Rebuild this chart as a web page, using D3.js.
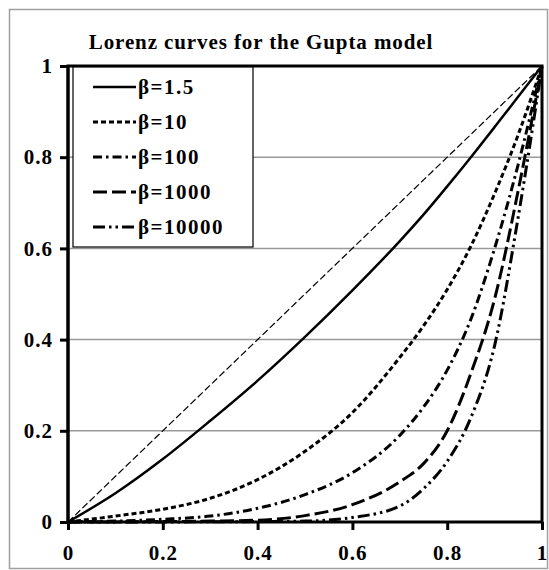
<!DOCTYPE html>
<meta charset="utf-8">
<style>
body { margin: 0; background: #fff; }
svg, .text { font-family: 'Liberation Serif', 'Times New Roman', serif; font-weight: bold; }
</style>
<body>
<script src="https://d3js.org/d3.v7.min.js"></script>
<script>

// share of population (x) and cumulative share of income (y) per beta
var xs = [0, 0.1, 0.2, 0.3, 0.4, 0.5, 0.6, 0.7, 0.75, 0.8, 0.85, 0.9, 0.95, 1];
var beta1_5   = [0, 0.063, 0.138, 0.222, 0.31, 0.406, 0.508, 0.616, 0.674, 0.736, 0.80, 0.866, 0.933, 1];
var beta10    = [0, 0.013, 0.028, 0.052, 0.093, 0.155, 0.24, 0.361, 0.43, 0.51, 0.605, 0.72, 0.85, 1];
var beta100   = [0, 0.002, 0.006, 0.013, 0.03, 0.06, 0.108, 0.19, 0.252, 0.333, 0.445, 0.60, 0.785, 1];
var beta1000  = [0, 0, 0.001, 0.002, 0.004, 0.014, 0.038, 0.088, 0.128, 0.2, 0.326, 0.489, 0.728, 1];
var beta10000 = [0, 0, 0, 0.0005, 0.001, 0.002, 0.01, 0.035, 0.073, 0.133, 0.229, 0.387, 0.67, 1];
var equality  = [0, 1];

var labels = ["\u03b2=1.5", "\u03b2=10", "\u03b2=100", "\u03b2=1000", "\u03b2=10000"];
var xTicks = [0, 0.2, 0.4, 0.6, 0.8, 1];
var yTicks = [0, 0.2, 0.4, 0.6, 0.8, 1];

var W = 549, H = 570;
var margin = {top: 66, right: 7, bottom: 48, left: 68};
var width = W - margin.left - margin.right,
    height = H - margin.top - margin.bottom;

var x = d3.scaleLinear().domain([0, 1]).range([0, width]),
    y = d3.scaleLinear().domain([0, 1]).range([height, 0]);

var svg = d3.select("body").append("svg")
    .attr("width", W)
    .attr("height", H);

// outer chart frame
svg.append("rect")
    .attr("x", 9.5).attr("y", 9.5)
    .attr("width", W - 11).attr("height", H - 11)
    .style("fill", "none")
    .style("stroke", "#a0a0a0")
    .style("stroke-width", 1.5);

svg.append("text")
    .attr("x", 261)
    .attr("y", 49)
    .style("text-anchor", "middle")
    .style("font-size", "21px")
    .style("letter-spacing", "0.9px")
    .text("Lorenz curves for the Gupta model");

var focus = svg.append("g")
    .attr("transform", "translate(" + margin.left + "," + margin.top + ")");

// gridlines
focus.selectAll(".grid")
    .data(yTicks.filter(function(d) { return d > 0 && d < 1; }))
    .enter().append("line")
    .attr("x1", 0).attr("x2", width)
    .attr("y1", function(d) { return y(d); })
    .attr("y2", function(d) { return y(d); })
    .style("stroke", "#999")
    .style("stroke-width", 1.5);

var series = [
  {name: labels[0], values: beta1_5,   dash: null,                 sw: 2.5},
  {name: labels[1], values: beta10,    dash: "5,3",                sw: 3},
  {name: labels[2], values: beta100,   dash: "9,4,2.5,4",          sw: 3},
  {name: labels[3], values: beta1000,  dash: "14,5",               sw: 3},
  {name: labels[4], values: beta10000, dash: "12,4,2.5,4,2.5,4",   sw: 3}
];

var line = d3.line()
    .curve(d3.curveMonotoneX)
    .x(function(d) { return x(d[0]); })
    .y(function(d) { return y(d[1]); });

// line of equality
focus.append("path")
    .datum(equality.map(function(v, i) { return [i, v]; }))
    .attr("d", line)
    .style("fill", "none")
    .style("stroke", "#000")
    .style("stroke-width", 1.2)
    .style("stroke-dasharray", "7,3");

focus.selectAll(".curve")
    .data(series)
    .enter().append("path")
    .attr("class", "curve")
    .attr("d", function(s) { return line(xs.map(function(v, i) { return [v, s.values[i]]; })); })
    .style("fill", "none")
    .style("stroke", "#000")
    .style("stroke-width", function(s) { return s.sw; })
    .style("stroke-dasharray", function(s) { return s.dash; });

// plot border
focus.append("rect")
    .attr("width", width).attr("height", height)
    .style("fill", "none")
    .style("stroke", "#000")
    .style("stroke-width", 3);

var xAxis = d3.axisBottom(x).tickValues(xTicks).tickSize(8).tickPadding(15).tickFormat(d3.format("~g"));
var yAxis = d3.axisLeft(y).tickValues(yTicks).tickSize(8).tickPadding(7).tickFormat(d3.format("~g"));

var gx = focus.append("g")
    .attr("transform", "translate(0," + height + ")")
    .call(xAxis);
var gy = focus.append("g")
    .call(yAxis);

[gx, gy].forEach(function(g) {
  g.select(".domain").remove();
  g.selectAll(".tick line").style("stroke", "#000").style("stroke-width", 3);
  g.selectAll(".tick text")
    .style("font-family", "'Liberation Serif', serif")
    .style("font-weight", "bold")
    .style("font-size", "21px")
    .style("letter-spacing", "1px")
    .style("fill", "#000");
});

// legend
var legend = focus.append("g")
    .attr("transform", "translate(5,1)");

legend.append("rect")
    .attr("width", 180).attr("height", 180)
    .style("fill", "#fff")
    .style("stroke", "#000")
    .style("stroke-width", 1.2);

var item = legend.selectAll(".item")
    .data(series)
    .enter().append("g")
    .attr("transform", function(d, i) { return "translate(0," + (20 + i * 35) + ")"; });

item.append("line")
    .attr("x1", 20).attr("x2", 63)
    .style("stroke", "#000")
    .style("stroke-width", function(s) { return s.sw; })
    .style("stroke-dasharray", function(s) { return s.dash; });

item.append("text")
    .attr("x", 65)
    .attr("y", 7)
    .style("font-size", "21px")
    .style("letter-spacing", "1.5px")
    .text(function(s) { return s.name; });

// redraw left edge over legend
focus.append("line")
    .attr("x1", 0).attr("x2", 0).attr("y1", 0).attr("y2", height)
    .style("stroke", "#000").style("stroke-width", 3);

</script>
</body>
